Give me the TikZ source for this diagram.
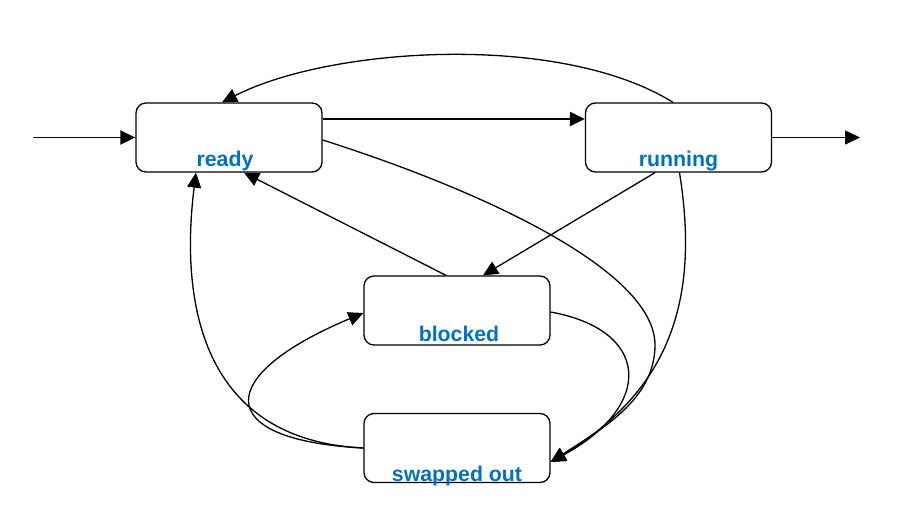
\documentclass[tikz,border=0pt]{standalone}
\usepackage{fontspec}
\setmainfont{Liberation Sans}
\usetikzlibrary{arrows.meta}
\definecolor{lblue}{RGB}{0,112,192}
\begin{document}
\begin{tikzpicture}[x=1pt,y=-1pt,
  state/.style={draw, line width=1.3pt, rounded corners=10pt, minimum width=186pt, minimum height=69pt, inner sep=0pt},
  lbl/.style={text=lblue, font=\bfseries\fontsize{21.3}{24}\selectfont, anchor=base, inner sep=0pt},
  conn/.style={line width=1.3pt, -{Triangle[length=15pt,width=14pt]}}]
\useasboundingbox (0,0) rectangle (922,520);
\node[state] (ready) at (229,137.5) {};
\node[state] (running) at (678.5,137.5) {};
\node[state] (blocked) at (457,310.5) {};
\node[state] (swapped) at (457,448) {};
\node[lbl] (readyt) at ([xshift=-4pt,yshift=6pt]ready.south) {ready};
\node[lbl] (runningt) at ([yshift=6pt]running.south) {running};
\node[lbl] (blockedt) at ([xshift=2pt,yshift=4pt]blocked.south) {blocked};
\node[lbl] (swappedt) at ([yshift=2pt]swapped.south) {swapped out};
\coordinate (in) at (33,137.5);
\coordinate (out) at (860,137.5);
\draw[conn, line width=1.6pt] (in) -- (ready.west);
\draw[conn, line width=1.6pt] (running.east) -- (out);
\draw[conn, line width=2.3pt] ([yshift=18.5pt]ready.east) -- ([yshift=18.5pt]running.west);
\draw[conn] ([xshift=-5.5pt]running.north) .. controls (560,32) and (330,47) .. ([xshift=-7pt]ready.north);
\draw[conn] ([xshift=-23.5pt]running.south) -- ([xshift=26pt]blocked.north);
\draw[conn] ([xshift=-11pt]blocked.north) -- ([xshift=15pt]ready.south);
\draw[conn] (swapped.west) .. controls (200,440) and (180,300) .. ([xshift=-33pt]ready.south);
\draw[conn] (swapped.west) .. controls (210,440) and (215,375) .. ([yshift=-2.5pt]blocked.west);
\draw[conn] ([yshift=-2.5pt]ready.east) .. controls (480,190) and (655,270) .. (655,345) .. controls (655,400) and (600,430) .. ([yshift=-14pt]swapped.east);
\draw[conn] ([xshift=1pt]running.south) .. controls (700,300) and (670,390) .. ([yshift=-14pt]swapped.east);
\draw[conn] ([yshift=-1.5pt]blocked.east) .. controls (650,330) and (655,405) .. ([yshift=-14pt]swapped.east);
\end{tikzpicture}
\end{document}
